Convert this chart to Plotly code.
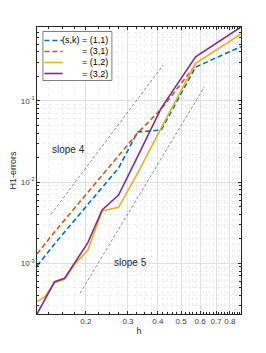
import numpy as np
import plotly.graph_objects as go

# ---- data ----
h = [0.125, 0.1355, 0.148, 0.163, 0.181, 0.204, 0.234, 0.274, 0.329, 0.413, 0.575, 0.89]
err_s1k1 = [9.24e-4, 1.263e-3, 1.72e-3, 2.42e-3, 3.50e-3, 5.21e-3, 8.44e-3, 0.01486, 0.0413, 0.0437, 0.2606, 0.4637]
h_s3k1 = h[:11]
err_s3k1 = [1.298e-3, 1.774e-3, 2.42e-3, 3.40e-3, 4.92e-3, 7.53e-3, 0.01219, 0.02153, 0.0401, 0.0793, 0.276]
err_s1k2 = [3.36e-4, 3.94e-4, 5.75e-4, 6.33e-4, 9.97e-4, 1.456e-3, 4.39e-3, 4.87e-3, 0.0128, 0.0465, 0.29, 0.665]
err_s3k2 = [2.37e-4, 3.62e-4, 5.91e-4, 6.52e-4, 1.064e-3, 1.79e-3, 4.52e-3, 6.92e-3, 0.0206, 0.0815, 0.349, 0.811]

slope4_h = [0.143, 0.421]
slope4_err = [4.0e-3, 0.276]
slope5_h = [0.189, 0.626]
slope5_err = [4.26e-4, 0.149]

legend_labels = ["(s,k) = (1,1)", "= (3,1)", "= (1,2)", "= (3,2)"]
x_tickvals = [0.2, 0.3, 0.4, 0.5, 0.6, 0.7, 0.8]
x_ticktext = ["0.2", "0.3", "0.4", "0.5", "0.6", "0.7", "0.8"]
y_tickvals = [1e-3, 1e-2, 1e-1]
y_ticktext = ["10<sup>-3</sup>", "10<sup>-2</sup>", "10<sup>-1</sup>"]

x_minor = [0.14, 0.16, 0.18, 0.225, 0.25, 0.275, 0.325, 0.35, 0.375,
           0.42, 0.44, 0.46, 0.48, 0.52, 0.54, 0.56, 0.58, 0.62, 0.64, 0.66, 0.68,
           0.72, 0.74, 0.76, 0.78, 0.82, 0.84, 0.86, 0.88]
y_minor = [m * 10.0 ** k for k in range(-4, 0) for m in range(2, 10)]

BLUE = "#0072BD"
ORANGE = "#D95319"
YELLOW = "#EDB120"
PURPLE = "#7E2F8E"
FONT = "Liberation Sans, Arial, sans-serif"
AXC = "#262626"

fig = go.Figure()

series = [
    (h, err_s1k1, BLUE, "dash"),
    (h_s3k1, err_s3k1, ORANGE, "dash"),
    (h, err_s1k2, YELLOW, "solid"),
    (h, err_s3k2, PURPLE, "solid"),
]
DASH = "5px,3px"
for (xs, ys, col, d), lab in zip(series, legend_labels):
    fig.add_trace(go.Scatter(x=xs, y=ys, mode="lines", name=lab, showlegend=False,
                             line=dict(color=col, width=1.6, dash=DASH if d == "dash" else "solid")))

for xs, ys in [(slope4_h, slope4_err), (slope5_h, slope5_err)]:
    fig.add_trace(go.Scatter(x=xs, y=ys, mode="lines", showlegend=False,
                             line=dict(color="#666666", width=0.7, dash="3px,2px")))

fig.add_annotation(x=np.log10(0.1696), y=np.log10(0.0248), text="slope 4", showarrow=False,
                   font=dict(family=FONT, size=10, color="#262626"))
fig.add_annotation(x=np.log10(0.308), y=np.log10(1.014e-3), text="slope 5", showarrow=False,
                   font=dict(family=FONT, size=10, color="#262626"))

# ---- manual legend (MATLAB style) ----
L, T, PW, PH = 34, 27, 207, 287
def px(xp):
    return (xp - L) / PW
def py(yp):
    return (T + PH - yp) / PH

fig.add_shape(type="rect", xref="paper", yref="paper", x0=px(40), x1=px(110), y0=py(80.5), y1=py(31.5),
              line=dict(color="#262626", width=0.6), fillcolor="white", layer="above")
rows = [40.5, 51.5, 62.5, 73.5]
for (xs, ys, col, d), lab, ry in zip(series, legend_labels, rows):
    fig.add_shape(type="line", xref="paper", yref="paper", x0=px(41.5), x1=px(60), y0=py(ry), y1=py(ry),
                  line=dict(color=col, width=1.6, dash=DASH if d == "dash" else "solid"), layer="above")
    fig.add_annotation(xref="paper", yref="paper", x=px(108), y=py(ry), text=lab, showarrow=False,
                       xanchor="right", yanchor="middle",
                       font=dict(family=FONT, size=9, color="#000000"))

axis_common = dict(
    type="log", showline=True, linecolor=AXC, linewidth=0.6, mirror="allticks",
    ticks="inside", ticklen=3, tickcolor=AXC, tickwidth=0.6,
    showgrid=True, gridcolor="#e0e0e0", gridwidth=0.6, zeroline=False,
    tickfont=dict(family=FONT, size=8, color="#404040"),
)

fig.update_xaxes(**axis_common,
                 range=[np.log10(h[0]), np.log10(h[-1])],
                 tickmode="array", tickvals=x_tickvals, ticktext=x_ticktext,
                 minor=dict(tickvals=x_minor, ticks="inside", ticklen=2, tickcolor=AXC, tickwidth=0.5,
                            showgrid=True, gridcolor="#eeeeee", griddash="dot", gridwidth=0.6),
                 title=dict(text="h", font=dict(family=FONT, size=9, color="#262626"), standoff=2))
fig.update_yaxes(**axis_common,
                 range=[np.log10(err_s3k2[0]), np.log10(err_s3k2[-1])],
                 tickmode="array", tickvals=y_tickvals, ticktext=y_ticktext,
                 minor=dict(tickvals=y_minor, ticks="inside", ticklen=2, tickcolor=AXC, tickwidth=0.5,
                            showgrid=True, gridcolor="#eeeeee", griddash="dot", gridwidth=0.6),
                 title=dict(text="H1-errors", font=dict(family=FONT, size=9, color="#262626"), standoff=2))

fig.update_layout(
    width=266, height=353, autosize=False,
    margin=dict(l=L, r=266 - L - PW, t=T, b=353 - T - PH),
    paper_bgcolor="white", plot_bgcolor="white",
    font=dict(family=FONT),
)

fig.write_html("out.html", config={"displayModeBar": False},
               post_script="document.body.style.margin='0';document.body.style.overflow='hidden';")
